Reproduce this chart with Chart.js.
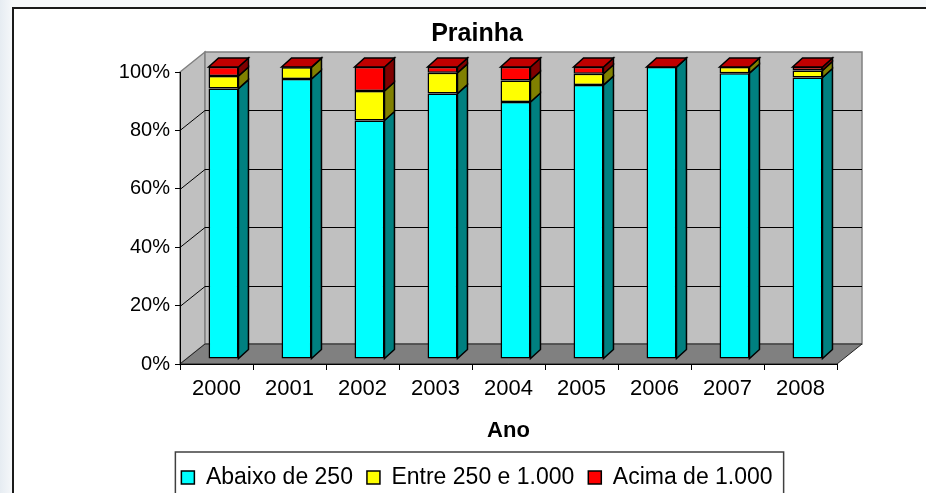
<html>
<head>
<script src="https://cdn.jsdelivr.net/npm/chart.js"></script>
<title>Prainha</title>
<style>
  body { margin: 0; width: 926px; height: 493px; overflow: hidden;
         background: linear-gradient(to right, #e6ecf2, #f6f8fa 13px); position: relative; }
  .frame { position: absolute; left: 12px; top: 7px; width: 1000px; height: 600px;
           background: #fff; border-left: 2px solid #1a1a1a; border-top: 2px solid #1a1a1a; }
  #chart { position: absolute; left: 0; top: 0; }
</style>
</head>
<body>
<div class="frame"></div>
<canvas id="chart" width="926" height="493"></canvas>

<script>
  const years = ['2000', '2001', '2002', '2003', '2004', '2005', '2006', '2007', '2008'];
  const abaixo250 = [92.6, 95.9, 81.7, 90.9, 88.0, 93.8, 100, 97.9, 96.4];
  const entre250e1000 = [4.3, 4.0, 10.1, 7.1, 7.4, 3.9, 0, 2.1, 2.4];
  const acima1000 = [3.1, 0.1, 8.2, 2.0, 4.6, 2.3, 0, 0, 1.2];
  const yTickLabels = ['0%', '20%', '40%', '60%', '80%', '100%'];

  const FONT = '"Liberation Sans", Arial, sans-serif';
  Chart.defaults.font.family = FONT;
  Chart.defaults.color = '#000';

  // depth of the walls / of the bars (3D look)
  const WALL = { dx: 25, dy: 20 };
  const BAR = { dx: 10, dy: 9 };
  const SHIFT = { dx: 7, dy: -5 };
  const sideColors = ['#008080', '#808000', '#800000'];
  const capColor = '#c00000';

  function poly(ctx, pts, fill, stroke, lw) {
    ctx.beginPath();
    ctx.moveTo(pts[0][0], pts[0][1]);
    for (let i = 1; i < pts.length; i++) ctx.lineTo(pts[i][0], pts[i][1]);
    ctx.closePath();
    if (fill) { ctx.fillStyle = fill; ctx.fill(); }
    if (stroke) { ctx.strokeStyle = stroke; ctx.lineWidth = lw || 1; ctx.stroke(); }
  }

  const walls = {
    id: 'walls',
    beforeDraw(chart) {
      const ctx = chart.ctx;
      const { left: L, right: R, top: T, bottom: B } = chart.chartArea;
      const y = chart.scales.y;
      ctx.save();
      // side wall
      poly(ctx, [[L, B], [L, T], [L + WALL.dx, T - WALL.dy], [L + WALL.dx, B - WALL.dy]], '#c0c0c0', '#808080', 1.5);
      // back wall
      poly(ctx, [[L + WALL.dx, T - WALL.dy], [R + WALL.dx, T - WALL.dy], [R + WALL.dx, B - WALL.dy], [L + WALL.dx, B - WALL.dy]], '#c0c0c0', '#808080', 1.5);
      // grid lines
      ctx.strokeStyle = '#000';
      ctx.lineWidth = 1;
      y.ticks.forEach(t => {
        if (t.value <= 0 || t.value >= 100) return;
        const py = Math.round(y.getPixelForValue(t.value)) + 0.5;
        ctx.beginPath();
        ctx.moveTo(L, py);
        ctx.lineTo(L + WALL.dx, py - WALL.dy);
        ctx.lineTo(R + WALL.dx, py - WALL.dy);
        ctx.stroke();
      });
      // floor
      poly(ctx, [[L, B], [R, B], [R + WALL.dx, B - WALL.dy], [L + WALL.dx, B - WALL.dy]], '#808080', '#202020', 1);
      ctx.restore();
    },
    beforeDatasetsDraw(chart) {
      chart.ctx.save();
      chart.ctx.translate(SHIFT.dx, SHIFT.dy);
    },
    afterDatasetsDraw(chart) {
      const ctx = chart.ctx;
      const n = chart.data.datasets.length;
      for (let d = 0; d < n; d++) {
        const meta = chart.getDatasetMeta(d);
        meta.data.forEach(bar => {
          const p = bar.getProps(['x', 'y', 'base', 'width'], true);
          const xl = p.x - p.width / 2, xr = p.x + p.width / 2;
          poly(ctx, [[xr, p.y], [xr + BAR.dx, p.y - BAR.dy], [xr + BAR.dx, p.base - BAR.dy], [xr, p.base]],
               sideColors[d], '#000', 1.5);
          if (d === n - 1) {
            poly(ctx, [[xl, p.y], [xl + BAR.dx, p.y - BAR.dy], [xr + BAR.dx, p.y - BAR.dy], [xr, p.y]],
                 capColor, '#000', 1.5);
          }
        });
      }
      ctx.restore();
    },
    afterDraw(chart) {
      const boxes = chart.legend.legendHitBoxes;
      if (!boxes || !boxes.length) return;
      const ctx = chart.ctx;
      const x0 = Math.min(...boxes.map(b => b.left)) - 6;
      const x1 = Math.max(...boxes.map(b => b.left + b.width)) + 11;
      const y0 = Math.min(...boxes.map(b => b.top)) - 14;
      ctx.save();
      ctx.strokeStyle = '#404040';
      ctx.lineWidth = 1.5;
      ctx.strokeRect(x0, y0, x1 - x0, 100);
      ctx.restore();
    }
  };

  const ds = (label, data, color) => ({
    label: label,
    data: data,
    backgroundColor: color,
    borderColor: '#000',
    borderWidth: 1.5,
    borderSkipped: false,
    barPercentage: 0.41,
    categoryPercentage: 1,
    clip: false
  });

  const chart = new Chart(document.getElementById('chart'), {
    type: 'bar',
    data: {
      labels: years,
      datasets: [
        ds('Abaixo de 250', abaixo250, '#00ffff'),
        ds('Entre 250 e 1.000', entre250e1000, '#ffff00'),
        ds('Acima de 1.000', acima1000, '#ff0000')
      ]
    },
    options: {
      responsive: false,
      animation: false,
      devicePixelRatio: 1,
      layout: { padding: { left: 28, right: 0, top: 0, bottom: -6 } },
      scales: {
        x: {
          stacked: true,
          grid: { display: true, drawOnChartArea: false, drawTicks: true, tickLength: 6, color: '#000', offset: true },
          border: { display: true, color: '#000', width: 1 },
          ticks: { font: { size: 22 }, color: '#000', padding: 6 },
          title: { display: true, text: 'Ano', font: { size: 22, weight: 'bold' }, color: '#000', padding: { top: 0, bottom: 8 } },
          afterFit(s) { s.height = 88; }
        },
        y: {
          stacked: true,
          min: 0,
          max: 100,
          ticks: {
            stepSize: 20,
            font: { size: 20 },
            color: '#000',
            padding: 5,
            callback: (v, i) => yTickLabels[i]
          },
          grid: { display: true, drawOnChartArea: false, drawTicks: true, tickLength: 5, color: '#000' },
          border: { display: true, color: '#000', width: 1 },
          afterFit(s) { s.width = 152; }
        },
        y2: {
          position: 'right',
          display: true,
          grid: { display: false },
          border: { display: false },
          ticks: { display: false },
          afterFit(s) { s.width = 89; }
        }
      },
      plugins: {
        title: {
          display: true,
          text: 'Prainha',
          font: { size: 25, weight: 'bold' },
          color: '#000',
          padding: { top: 19, bottom: 23 }
        },
        legend: {
          position: 'bottom',
          labels: { boxWidth: 13, boxHeight: 13, font: { size: 23 }, color: '#000', padding: 14 }
        },
        tooltip: { enabled: false }
      }
    },
    plugins: [walls]
  });
</script>
</body>
</html>
